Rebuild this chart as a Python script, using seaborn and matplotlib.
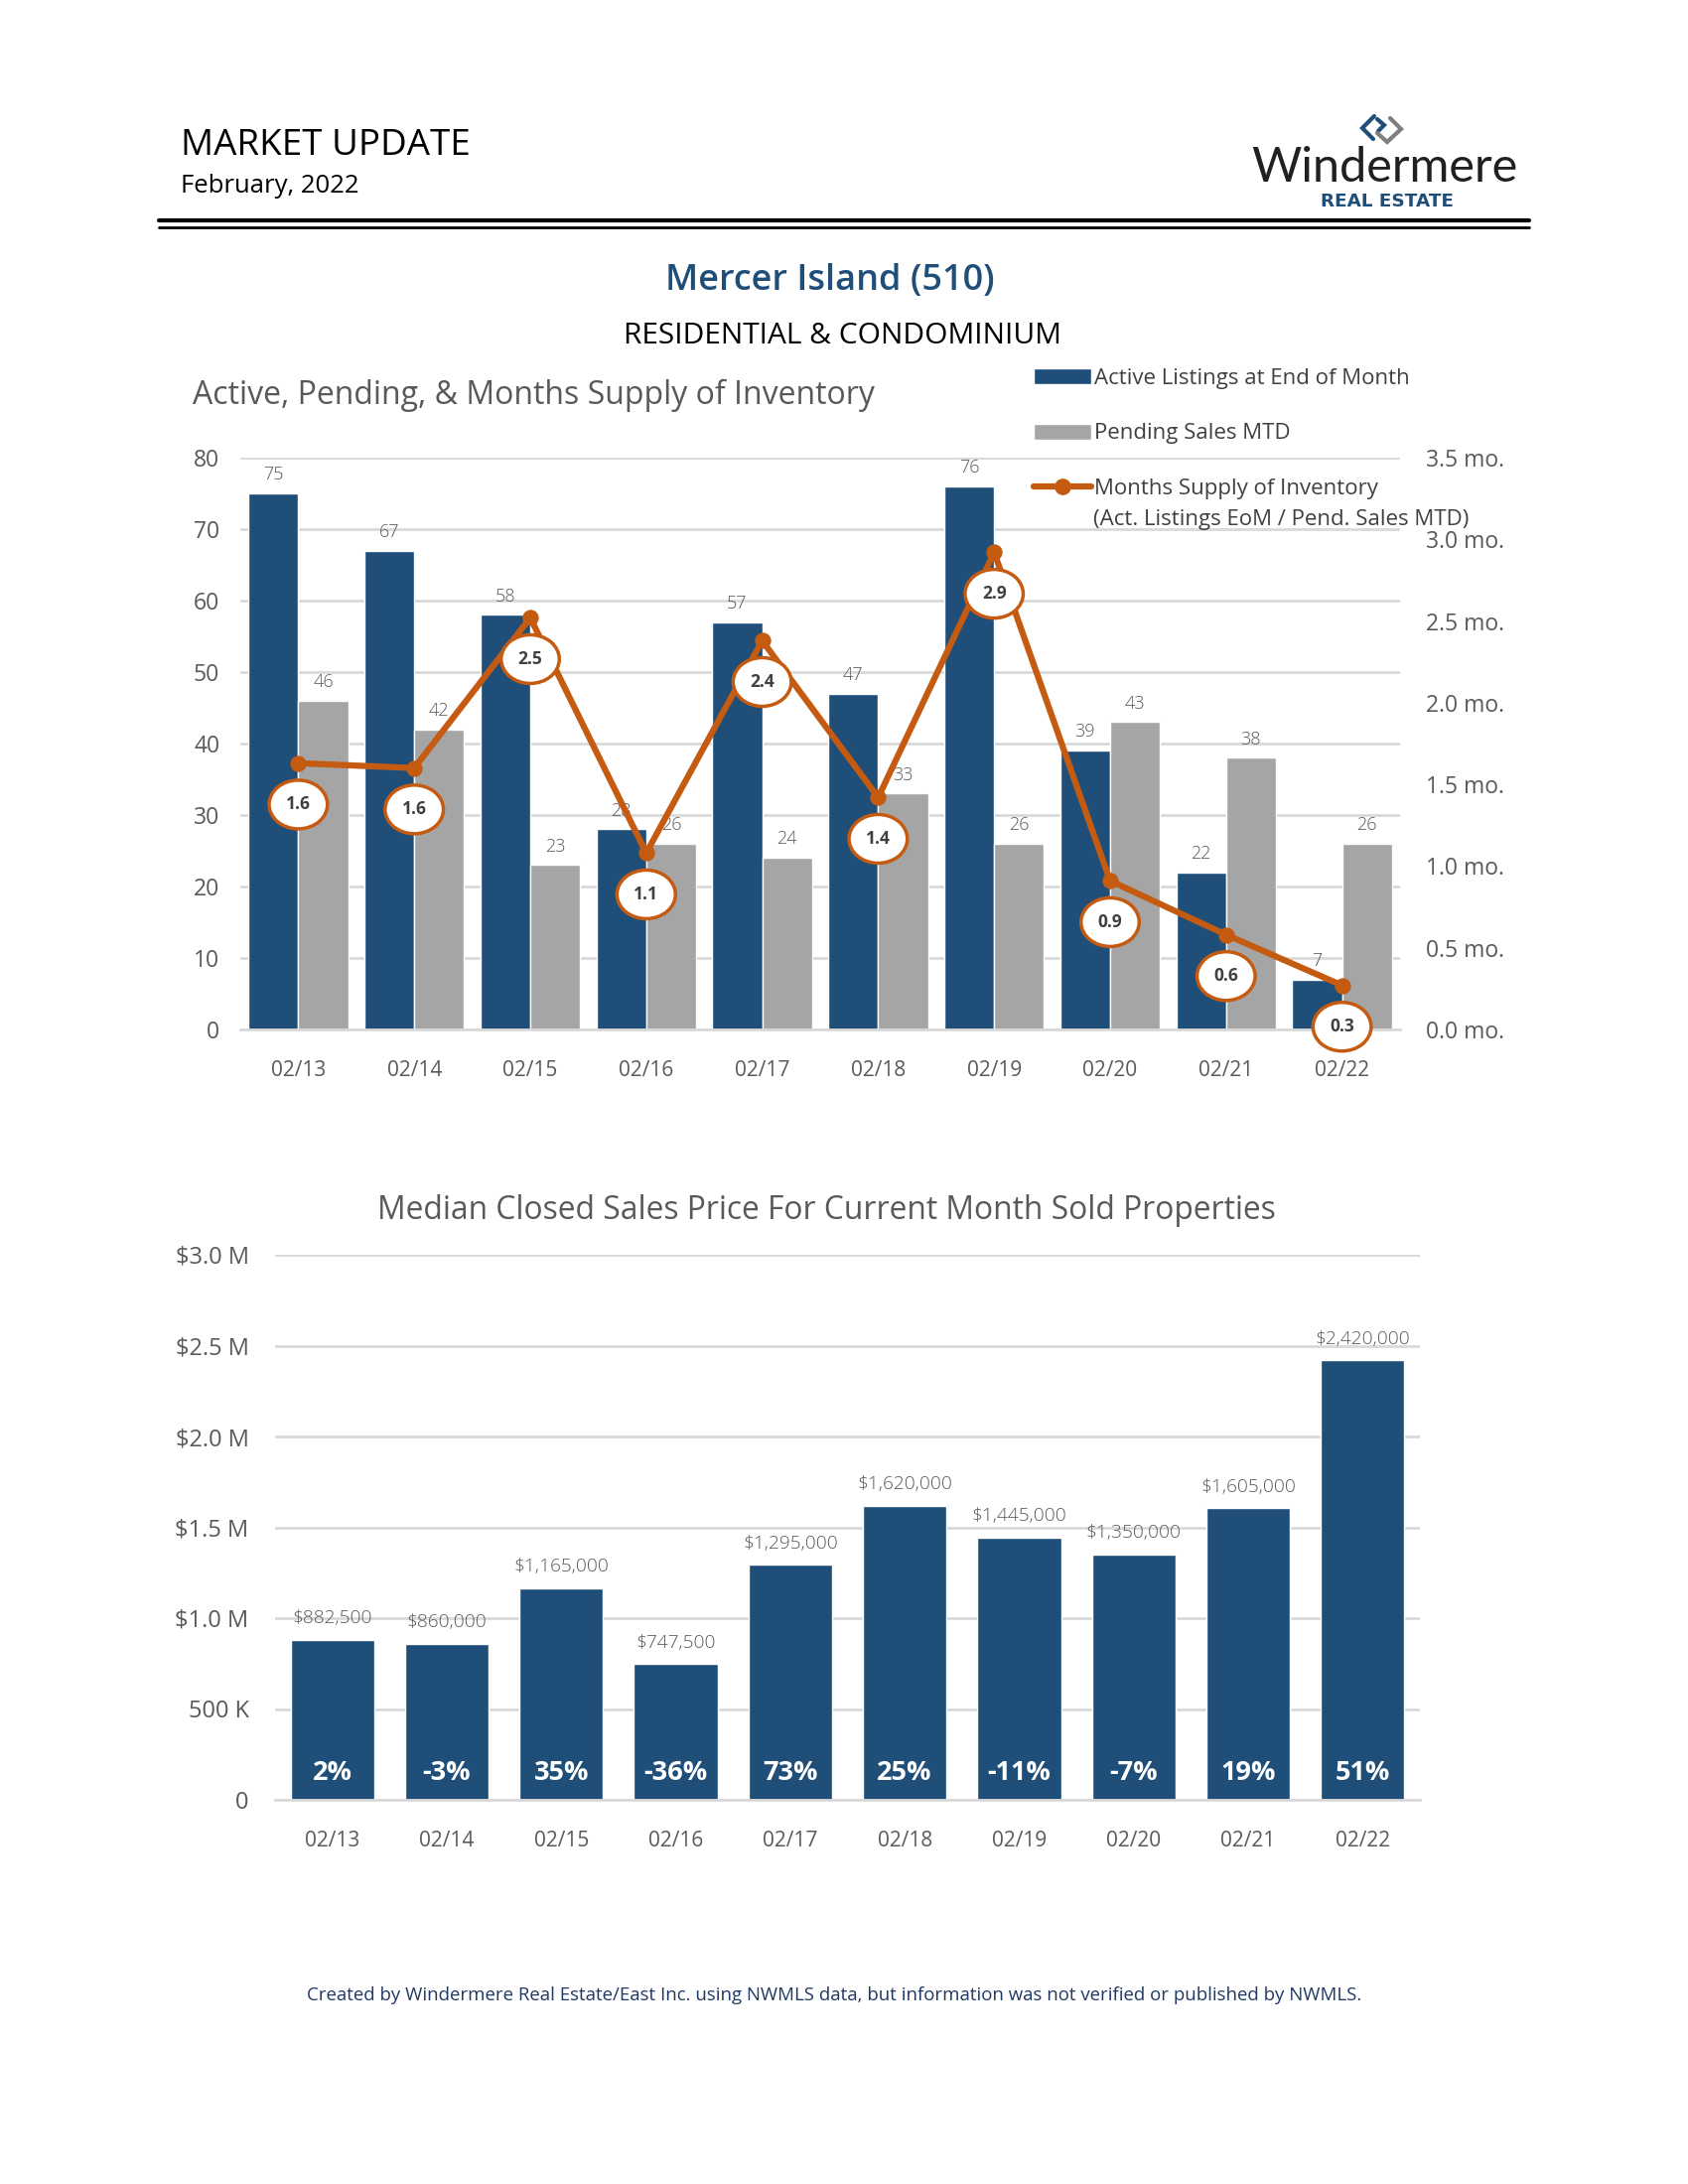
import numpy as np
import pandas as pd
import matplotlib
matplotlib.use('Agg')
from matplotlib import pyplot as plt
from matplotlib.patches import Patch
from matplotlib.lines import Line2D
import seaborn as sns

# chart data
periods = ['02/13', '02/14', '02/15', '02/16', '02/17', '02/18', '02/19', '02/20', '02/21', '02/22']
active_listings = [75, 67, 58, 28, 57, 47, 76, 39, 22, 7]
pending_sales = [46, 42, 23, 26, 24, 33, 26, 43, 38, 26]
months_supply = [1.63, 1.60, 2.52, 1.08, 2.38, 1.42, 2.92, 0.91, 0.58, 0.27]
supply_labels = ['1.6', '1.6', '2.5', '1.1', '2.4', '1.4', '2.9', '0.9', '0.6', '0.3']
median_price = [882500, 860000, 1165000, 747500, 1295000, 1620000, 1445000, 1350000, 1605000, 2420000]
price_labels = ['$882,500', '$860,000', '$1,165,000', '$747,500', '$1,295,000',
                '$1,620,000', '$1,445,000', '$1,350,000', '$1,605,000', '$2,420,000']
yoy_change = ['2%', '-3%', '35%', '-36%', '73%', '25%', '-11%', '-7%', '19%', '51%']
price_ticks = ['0', '500 K', '$1.0 M', '$1.5 M', '$2.0 M', '$2.5 M', '$3.0 M']

NAVY = '#1F4E79'
GRAY = '#A5A5A5'
ORANGE = '#C55A11'
GRID = '#D9D9D9'
TXT = '#595959'

W, H = 1700, 2200


def fx(x):
    return x / W


def fy(y):
    return 1 - y / H


sns.set_theme(style='white')
plt.rcParams['font.family'] = ['Open Sans', 'DejaVu Sans']

fig = plt.figure(figsize=(17, 22), dpi=100)

# header
fig.text(fx(182), fy(147), 'MARKET UPDATE', fontsize=26.5, va='center', ha='left',
         family=['Liberation Sans Narrow', 'Open Sans'], color='black')
fig.text(fx(182), fy(188), 'February, 2022', fontsize=18.5, va='center', ha='left',
         family=['Liberation Sans Narrow', 'Open Sans'], color='black')
fig.add_artist(Line2D([fx(160), fx(1540)], [fy(222), fy(222)], lw=3, color='black', transform=fig.transFigure))
fig.add_artist(Line2D([fx(160), fx(1540)], [fy(228.5), fy(228.5)], lw=2, color='black', transform=fig.transFigure))

# logo
fig.add_artist(Line2D([fx(1384), fx(1372), fx(1383)], [fy(117), fy(129), fy(140)], lw=3, color=NAVY,
                      transform=fig.transFigure, solid_joinstyle='miter'))
fig.add_artist(Line2D([fx(1387), fx(1394), fx(1388)], [fy(120), fy(126), fy(132)], lw=3, color=NAVY,
                      transform=fig.transFigure, solid_joinstyle='miter'))
fig.add_artist(Line2D([fx(1387), fx(1397), fx(1411), fx(1400)], [fy(134), fy(143), fy(130), fy(119)], lw=3,
                      color='#7F7F7F', transform=fig.transFigure, solid_joinstyle='miter'))
fig.text(fx(1394), fy(169), 'Windermere', fontsize=35, ha='center', va='center', color='#231F20',
         family=['Lato', 'Open Sans'])
fig.text(fx(1397), fy(203), 'REAL ESTATE', fontsize=13.2, ha='center', va='center', color=NAVY,
         fontweight='bold', family=['DejaVu Sans'])

fig.text(fx(836), fy(283), 'Mercer Island (510)', fontsize=26, ha='center', va='center', color=NAVY,
         fontweight='semibold')
fig.text(fx(849), fy(339), 'RESIDENTIAL & CONDOMINIUM', fontsize=21.5, ha='center', va='center', color='black')

# top chart: active / pending bars with months supply line
ax1 = fig.add_axes([fx(242), fy(1037), fx(1410) - fx(242), fy(461) - fy(1037)])
df_inv = pd.DataFrame({
    'period': periods * 2,
    'value': active_listings + pending_sales,
    'series': ['Active Listings at End of Month'] * len(periods) + ['Pending Sales MTD'] * len(periods),
})
sns.barplot(data=df_inv, x='period', y='value', hue='series', palette=[NAVY, GRAY], width=0.86, gap=0,
            saturation=1, legend=False, ax=ax1)
ax1.set_axisbelow(True)
ax1.yaxis.grid(True, color=GRID, lw=2)
ax1.set_ylim(0, 80)
ax1.set_yticks(np.arange(0, 81, 10))
ax1.set_xlim(-0.5, 9.5)
ax1.set_xlabel('')
ax1.set_ylabel('')
for s in ['top', 'left', 'right']:
    ax1.spines[s].set_visible(False)
ax1.spines['bottom'].set_color(GRID)
ax1.spines['bottom'].set_linewidth(2)
ax1.tick_params(axis='y', length=0, pad=15, labelsize=16.5, labelcolor=TXT)
ax1.tick_params(axis='x', length=0, pad=22, labelsize=15, labelcolor=TXT)
for c in ax1.containers:
    ax1.bar_label(c, padding=7, fontsize=13, color=TXT, fontweight='light')

ax2 = ax1.twinx()
sns.lineplot(x=np.arange(len(periods)), y=months_supply, ax=ax2, color=ORANGE, lw=4.5, marker='o',
             markersize=11, markeredgecolor=ORANGE)
ax2.set_ylim(0, 3.5)
ax2.set_xlim(-0.5, 9.5)
ticks2 = np.arange(0, 3.51, 0.5)
ax2.set_yticks(ticks2)
ax2.set_yticklabels([f'{t:.1f} mo.' for t in ticks2])
ax2.tick_params(axis='y', length=0, pad=19, labelsize=16.5, labelcolor=TXT)
for s in ['top', 'left', 'right', 'bottom']:
    ax2.spines[s].set_visible(False)
ax2.grid(False)
for i, (v, lab) in enumerate(zip(months_supply, supply_labels)):
    ax2.annotate(lab, (i, v), xytext=(0, -30), textcoords='offset points', ha='center', va='center',
                 fontsize=12.5, fontweight='bold', color='#404040',
                 bbox=dict(boxstyle='ellipse,pad=0.48', fc='white', ec=ORANGE, lw=2.5))

fig.text(fx(194), fy(398), 'Active, Pending, & Months Supply of Inventory', fontsize=23, ha='left',
         va='center', color=TXT)

handles = [Patch(facecolor=NAVY), Patch(facecolor=GRAY),
           Line2D([0], [0], color=ORANGE, lw=4.5, marker='o', markersize=11)]
labels = ['Active Listings at End of Month', 'Pending Sales MTD', 'Months Supply of Inventory']
fig.legend(handles, labels, loc='upper left', bbox_to_anchor=(fx(1041), fy(371)), frameon=False,
           fontsize=16, labelspacing=1.55, handlelength=2.6, handleheight=0.75, handletextpad=0.15,
           borderpad=0, borderaxespad=0, labelcolor='#404040')
fig.text(fx(1101), fy(524), '(Act. Listings EoM / Pend. Sales MTD)', fontsize=16, ha='left',
         va='center', color='#404040')

# bottom chart: median closed sales price
ax3 = fig.add_axes([fx(277), fy(1813), fx(1430) - fx(277), fy(1264) - fy(1813)])
sns.barplot(x=periods, y=median_price, color=NAVY, saturation=1, width=0.73, ax=ax3)
ax3.set_axisbelow(True)
ax3.yaxis.grid(True, color=GRID, lw=2)
ax3.set_ylim(0, 3000000)
ax3.set_yticks(np.arange(0, 3000001, 500000))
ax3.set_yticklabels(price_ticks)
ax3.set_xlim(-0.5, 9.5)
for s in ['top', 'left', 'right']:
    ax3.spines[s].set_visible(False)
ax3.spines['bottom'].set_color(GRID)
ax3.spines['bottom'].set_linewidth(2)
ax3.tick_params(axis='y', length=0, pad=19, labelsize=17, labelcolor=TXT)
ax3.tick_params(axis='x', length=0, pad=22, labelsize=15, labelcolor=TXT)
ax3.bar_label(ax3.containers[0], labels=price_labels, padding=9, fontsize=13.8, color=TXT, fontweight='light')
for i, lab in enumerate(yoy_change):
    ax3.text(i, 150000, lab, ha='center', va='center', color='white', fontsize=19.5, fontweight='bold')

fig.text(fx(832), fy(1219), 'Median Closed Sales Price For Current Month Sold Properties', fontsize=22.9,
         ha='center', va='center', color=TXT)

fig.text(fx(840), fy(2010), 'Created by Windermere Real Estate/East Inc. using NWMLS data, but information '
         'was not verified or published by NWMLS.', fontsize=13.4, ha='center', va='center', color='#1F3864')

fig.savefig('out.png', dpi=100, facecolor='white')
